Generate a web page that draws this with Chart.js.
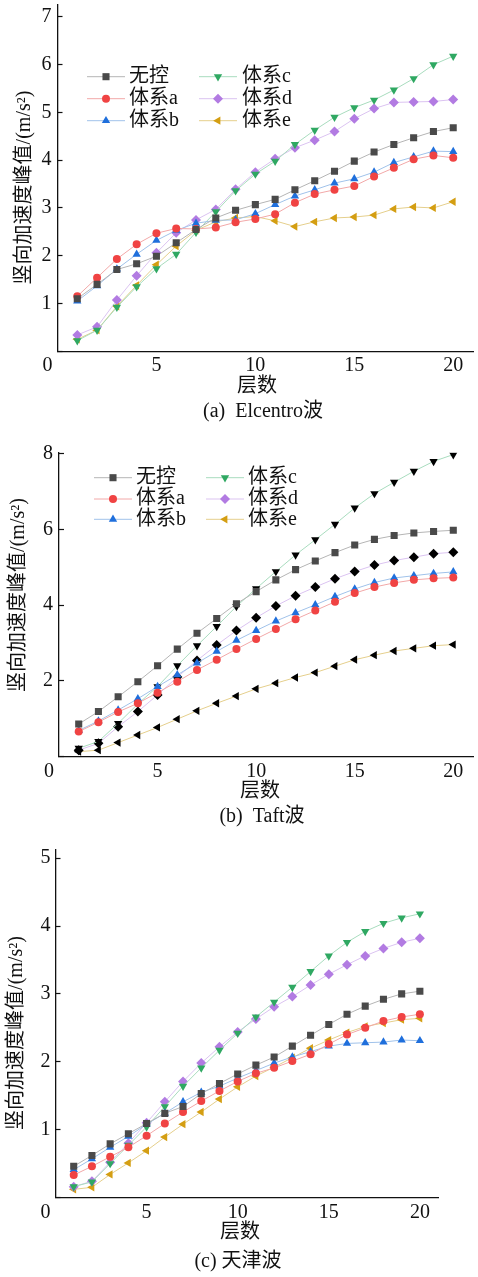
<!DOCTYPE html>
<html>
<head>
<meta charset="utf-8">
<script src="https://cdn.jsdelivr.net/npm/chart.js@4.4.0/dist/chart.umd.min.js"></script>
<style>
  body { margin: 0; background: #fff; width: 478px; height: 1277px; position: relative; overflow: hidden; }
  .panel { position: absolute; left: 0; width: 478px; }
</style>
</head>
<body>
<div class="panel" style="top:0;height:425px"><canvas id="chartA"></canvas></div>
<div class="panel" style="top:425px;height:420px"><canvas id="chartB"></canvas></div>
<div class="panel" style="top:845px;height:432px"><canvas id="chartC"></canvas></div>
<script>
// vertical peak acceleration per floor, three ground motions, six systems

const floors = [1, 2, 3, 4, 5, 6, 7, 8, 9, 10, 11, 12, 13, 14, 15, 16, 17, 18, 19, 20];
const seriesNames = ['无控', '体系a', '体系b', '体系c', '体系d', '体系e'];
const yTitle = '竖向加速度峰值/(m/s²)';
const xTitle = '层数';
const captions = ['(a)  Elcentro波', '(b)  Taft波', '(c) 天津波'];

// (a) Elcentro
const elNone = [1.10, 1.40, 1.71, 1.83, 1.99, 2.27, 2.55, 2.79, 2.95, 3.07, 3.18, 3.38, 3.57, 3.77, 3.98, 4.17, 4.33, 4.47, 4.60, 4.68];
const elA    = [1.15, 1.54, 1.93, 2.24, 2.47, 2.57, 2.56, 2.59, 2.70, 2.77, 2.87, 3.11, 3.29, 3.38, 3.46, 3.66, 3.84, 4.02, 4.10, 4.05];
const elB    = [1.05, 1.37, 1.72, 2.03, 2.32, 2.53, 2.68, 2.74, 2.75, 2.88, 3.07, 3.25, 3.38, 3.52, 3.61, 3.75, 3.95, 4.07, 4.19, 4.18];
const elC    = [0.22, 0.44, 0.92, 1.35, 1.73, 2.03, 2.49, 2.92, 3.36, 3.71, 3.98, 4.33, 4.63, 4.90, 5.10, 5.26, 5.47, 5.71, 6.00, 6.18];
const elD    = [0.34, 0.51, 1.07, 1.58, 2.06, 2.48, 2.75, 2.97, 3.39, 3.75, 4.03, 4.26, 4.42, 4.60, 4.87, 5.08, 5.21, 5.22, 5.23, 5.27];
const elE    = [0.25, 0.44, 0.94, 1.38, 1.81, 2.20, 2.53, 2.71, 2.79, 2.82, 2.73, 2.61, 2.71, 2.79, 2.81, 2.85, 2.98, 3.02, 3.00, 3.13];

// (b) Taft
const tfNone = [0.86, 1.19, 1.58, 1.98, 2.40, 2.84, 3.26, 3.65, 4.04, 4.36, 4.67, 4.94, 5.17, 5.39, 5.59, 5.74, 5.84, 5.91, 5.95, 5.98];
const tfA    = [0.66, 0.91, 1.18, 1.41, 1.69, 1.98, 2.29, 2.56, 2.84, 3.11, 3.37, 3.63, 3.86, 4.09, 4.32, 4.48, 4.59, 4.67, 4.71, 4.73];
const tfB    = [0.69, 0.94, 1.23, 1.53, 1.85, 2.16, 2.47, 2.78, 3.07, 3.33, 3.58, 3.80, 4.01, 4.23, 4.43, 4.60, 4.72, 4.78, 4.84, 4.88];
const tfC    = [0.22, 0.40, 0.88, 1.39, 1.85, 2.40, 2.93, 3.44, 3.97, 4.44, 4.89, 5.33, 5.73, 6.14, 6.57, 6.95, 7.25, 7.54, 7.80, 7.98];
const tfD    = [0.17, 0.35, 0.79, 1.19, 1.63, 2.10, 2.54, 2.95, 3.33, 3.67, 3.98, 4.25, 4.48, 4.70, 4.89, 5.06, 5.18, 5.27, 5.36, 5.40];
const tfE    = [0.13, 0.17, 0.37, 0.57, 0.77, 0.99, 1.21, 1.41, 1.60, 1.79, 1.94, 2.09, 2.22, 2.39, 2.56, 2.68, 2.79, 2.86, 2.93, 2.96];

// (c) Tianjin
const tjNone = [0.46, 0.62, 0.79, 0.94, 1.09, 1.24, 1.34, 1.53, 1.68, 1.82, 1.95, 2.07, 2.23, 2.39, 2.55, 2.70, 2.82, 2.92, 3.00, 3.04];
const tjA    = [0.33, 0.46, 0.60, 0.74, 0.91, 1.09, 1.26, 1.42, 1.57, 1.71, 1.83, 1.91, 2.01, 2.11, 2.26, 2.40, 2.50, 2.60, 2.66, 2.70];
const tjB    = [0.41, 0.57, 0.74, 0.90, 1.08, 1.24, 1.41, 1.55, 1.64, 1.76, 1.87, 1.98, 2.07, 2.15, 2.23, 2.27, 2.28, 2.29, 2.32, 2.31];
const tjC    = [0.16, 0.23, 0.50, 0.77, 1.04, 1.34, 1.64, 1.91, 2.17, 2.42, 2.66, 2.88, 3.10, 3.33, 3.56, 3.76, 3.92, 4.04, 4.12, 4.18];
const tjD    = [0.16, 0.24, 0.52, 0.80, 1.10, 1.41, 1.71, 1.98, 2.22, 2.44, 2.63, 2.81, 2.96, 3.13, 3.29, 3.43, 3.56, 3.67, 3.76, 3.82];
const tjE    = [0.12, 0.15, 0.34, 0.51, 0.69, 0.89, 1.08, 1.26, 1.45, 1.63, 1.79, 1.92, 2.06, 2.20, 2.32, 2.43, 2.52, 2.57, 2.62, 2.64];

const FONT = "'Liberation Serif', 'Noto Sans CJK SC', serif";
Chart.defaults.font.family = FONT;
Chart.defaults.font.size = 20;
Chart.defaults.color = '#111';

const markerColors = ['#4a4a4a', '#f04343', '#1f6fdc', '#2fa862', '#b27be2', '#d49e12'];
const lineColors   = ['#b5b5b5', '#f2a8a8', '#a0c2ea', '#a8dcbe', '#dbc3f1', '#e5cf8c'];
const markerStyles = ['rect', 'circle', 'triangle', 'triangle', 'rectRot', 'triangle'];
const markerRotations = [0, 0, 0, 180, 0, -90];
const markerRadii = [5, 4, 4.8, 4.8, 5, 4.8];

// axis titles, caption and the in-plot legend
const panelText = {
  id: 'panelText',
  afterDraw(chart, args, opts) {
    const ctx = chart.ctx;
    ctx.save();
    ctx.fillStyle = '#111';
    ctx.font = '20px ' + FONT;
    ctx.textAlign = 'center';
    ctx.textBaseline = 'middle';

    ctx.save();
    ctx.translate(opts.yTitleAt[0], opts.yTitleAt[1]);
    ctx.rotate(-Math.PI / 2);
    ctx.fillText(yTitle, 0, 0);
    ctx.restore();

    ctx.fillText(xTitle, opts.xTitleAt[0], opts.xTitleAt[1]);
    ctx.fillText(opts.caption, opts.captionAt[0], opts.captionAt[1]);

    if (opts.legend) {
      const lg = opts.legend;
      seriesNames.forEach((name, i) => {
        const col = lg.cols[Math.floor(i / 3)];
        const y = lg.rows[i % 3];
        ctx.strokeStyle = lineColors[i];
        ctx.lineWidth = 1;
        ctx.beginPath();
        ctx.moveTo(col.line[0], y);
        ctx.lineTo(col.line[1], y);
        ctx.stroke();
        ctx.fillStyle = markerColors[i];
        Chart.helpers.drawPoint(ctx, {
          pointStyle: markerStyles[i], rotation: markerRotations[i],
          radius: markerRadii[i], borderWidth: 0
        }, (col.line[0] + col.line[1]) / 2, y);
        ctx.fillStyle = '#111';
        ctx.textAlign = 'left';
        ctx.fillText(name, col.text, y);
      });
    }
    ctx.restore();
  }
};

function makeChart(id, cfg) {
  const datasets = cfg.series.map((vals, i) => ({
    label: seriesNames[i],
    data: floors.map((f, k) => ({ x: f, y: vals[k] })),
    borderColor: lineColors[i],
    borderWidth: 1,
    tension: 0,
    pointStyle: markerStyles[i],
    pointRotation: markerRotations[i],
    pointRadius: markerRadii[i],
    pointBackgroundColor: cfg.pointColors[i],
    pointBorderWidth: 0
  }));

  return new Chart(document.getElementById(id), {
    type: 'line',
    data: { datasets },
    options: {
      responsive: true,
      maintainAspectRatio: false,
      animation: false,
      layout: { padding: cfg.padding },
      plugins: {
        legend: { display: false },
        tooltip: { enabled: false },
        panelText: cfg.text
      },
      scales: {
        x: {
          type: 'linear', min: 0, max: 21,
          ticks: {
            stepSize: 5, includeBounds: false, padding: -5, color: '#111',
            callback: v => (v === 0 ? '0\u2002\u2002' : v)
          },
          grid: { display: false },
          border: { color: '#111', width: 1.3 },
          afterFit: s => { s.height = 30; s.paddingLeft = 0; s.paddingRight = 0; }
        },
        y: {
          min: 0, max: cfg.yMax,
          ticks: {
            stepSize: cfg.yStep, includeBounds: false, padding: cfg.yPad, color: '#111',
            callback: v => (v === 0 ? '' : v)
          },
          grid: { drawOnChartArea: false, drawTicks: true, tickLength: -5, tickColor: '#111', tickWidth: 1.2 },
          border: { color: '#111', width: 1.3 },
          afterFit: s => { s.width = cfg.yWidth; s.paddingTop = 0; s.paddingBottom = 0; }
        }
      }
    },
    plugins: [panelText]
  });
}

makeChart('chartA', {
  series: [elNone, elA, elB, elC, elD, elE],
  pointColors: markerColors,
  yMax: 7.25, yStep: 1, yPad: 11, yWidth: 57.5,
  padding: { left: 0, right: 2, top: 3.7, bottom: 43.8 },
  text: {
    yTitleAt: [25, 187.5], xTitleAt: [257, 386.7], captionAt: [263, 411.7], caption: captions[0],
    legend: {
      cols: [{ line: [87, 125], text: 129 }, { line: [199, 237], text: 242 }],
      rows: [76.7, 98.7, 120.7]
    }
  }
});

makeChart('chartB', {
  series: [tfNone, tfA, tfB, tfC, tfD, tfE],
  pointColors: [markerColors[0], markerColors[1], markerColors[2], '#000', '#000', '#000'],
  yMax: 8.03, yStep: 2, yPad: 11, yWidth: 59,
  padding: { left: 0, right: 0.5, top: 27.7, bottom: 58.4 },
  text: {
    yTitleAt: [18.3, 170], xTitleAt: [260, 366.7], captionAt: [262, 391.7], caption: captions[1],
    legend: {
      cols: [{ line: [94, 132], text: 136 }, { line: [206, 244], text: 248 }],
      rows: [52.7, 74, 94.3]
    }
  }
});

makeChart('chartC', {
  series: [tjNone, tjA, tjB, tjC, tjD, tjE],
  pointColors: markerColors,
  yMax: 5.12, yStep: 1, yPad: 10, yWidth: 55.5,
  padding: { left: 0, right: 39.9, top: 1.8, bottom: 49.5 },
  text: {
    yTitleAt: [16.7, 188], xTitleAt: [240, 388], captionAt: [238, 416.7], caption: captions[2]
  }
});
</script>
</body>
</html>
